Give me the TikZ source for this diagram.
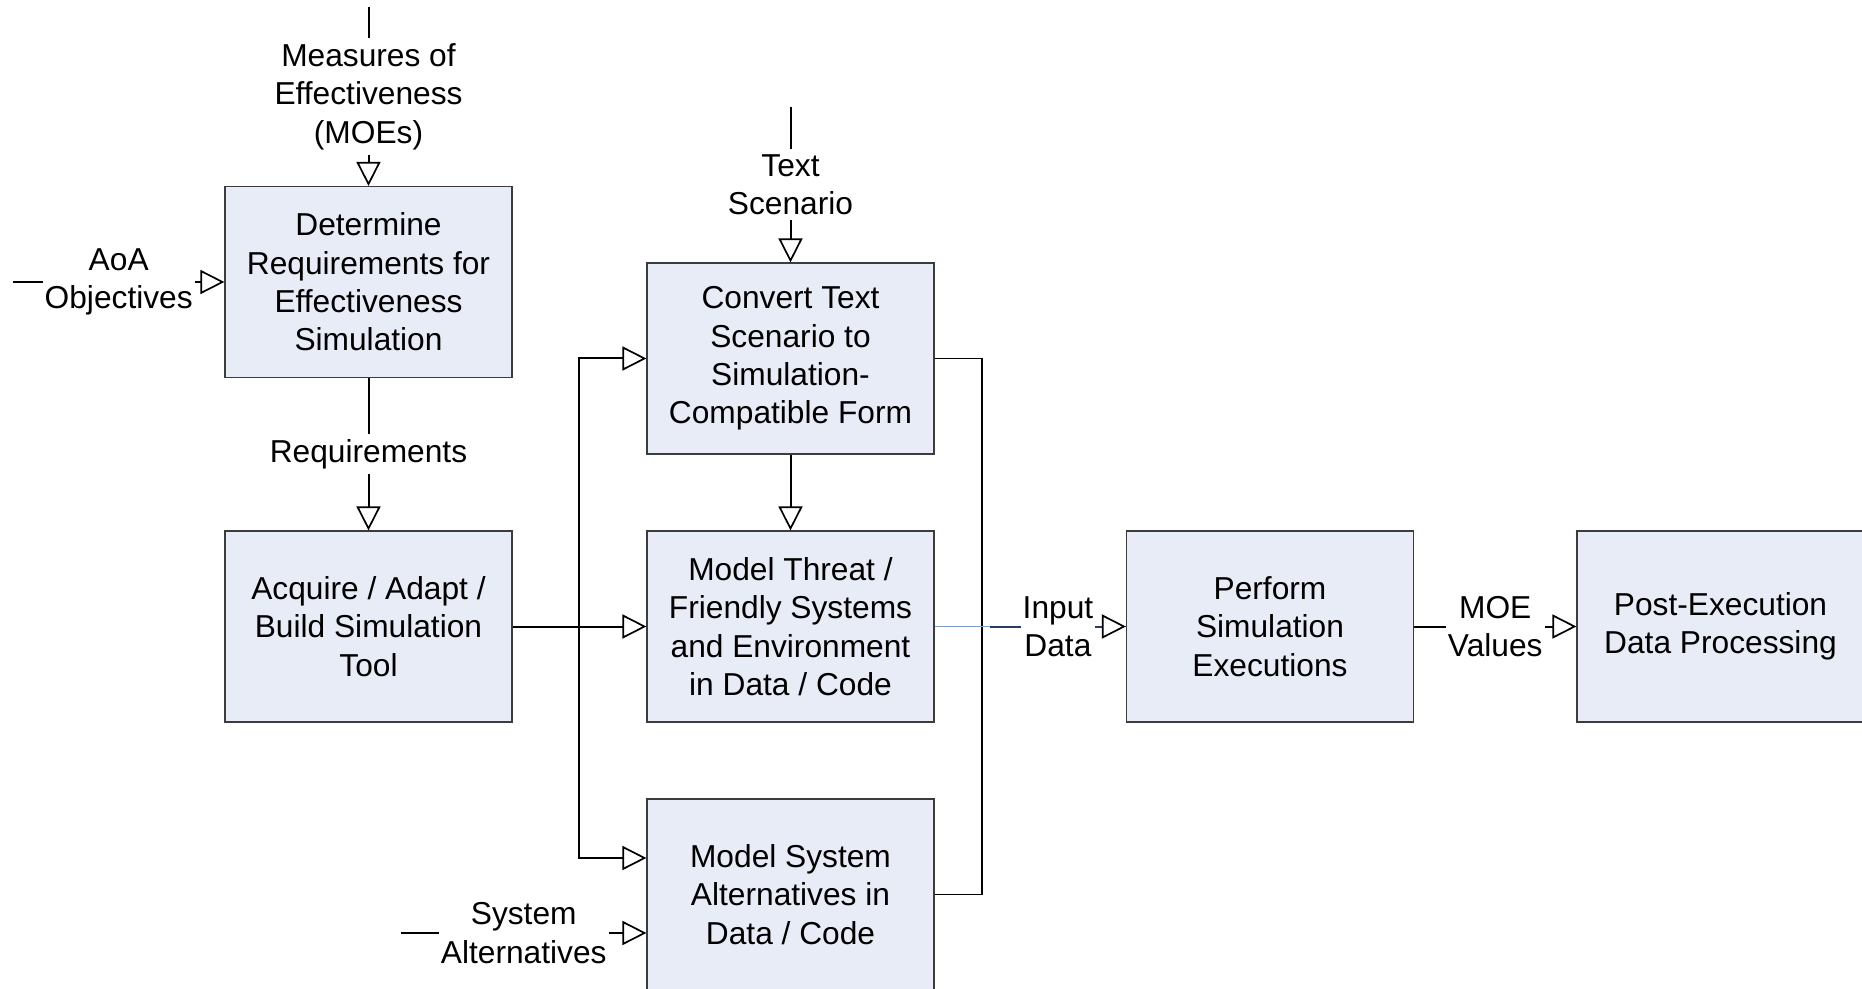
\documentclass[tikz,border=0pt]{standalone}
\usepackage{fontspec}
\setmainfont{Liberation Sans}
\usetikzlibrary{arrows.meta}
\definecolor{boxfill}{RGB}{231,236,247}
\definecolor{boxborder}{RGB}{60,60,60}
\definecolor{lightline}{RGB}{127,160,205}
\definecolor{darkline}{RGB}{40,60,95}
\newcommand{\diagfont}{\fontsize{15.85pt}{19.2pt}\selectfont}
\tikzset{
  proc/.style={draw=boxborder, fill=boxfill, line width=0.6pt,
    minimum width=143.5pt, minimum height=95.5pt, align=center,
    inner sep=0pt, font=\diagfont},
  lbl/.style={fill=white, align=center, inner xsep=1pt, inner ysep=2.5pt,
    font=\diagfont},
  tip/.tip={Triangle[length=12pt, width=12pt, fill=white, color=black, line width=0.85pt]},
  conn/.style={line width=1pt, -tip},
  thinconn/.style={line width=0.7pt},
}
\begin{document}
\begin{tikzpicture}[x=0.5pt, y=-0.5pt]
\useasboundingbox (0,0) rectangle (1862,989);
\begin{scope}
\clip (0,0) rectangle (1862,989);

% process boxes
\node[proc] (det)  at (368.5,282)   {Determine\\Requirements for\\Effectiveness\\Simulation};
\node[proc] (acq)  at (368.5,626.5) {Acquire / Adapt /\\Build Simulation\\Tool};
\node[proc] (conv) at (790.5,358.5) {Convert Text\\Scenario to\\Simulation-\\Compatible Form};
\node[proc] (thr)  at (790.5,626.5) {Model Threat /\\Friendly Systems\\and Environment\\in Data / Code};
\node[proc] (alt)  at (790.5,894.5) {Model System\\Alternatives in\\Data / Code};
\node[proc] (perf) at (1270,626.5)  {Perform\\Simulation\\Executions};
\node[proc] (post) at (1720.5,626.5){Post-Execution\\Data Processing};

% free ends and bus points
\coordinate (moeTop) at (368.5,7);
\coordinate (aoaStart) at (13,282);
\coordinate (tsTop) at (790.5,107);
\coordinate (saStart) at (401,933);
\coordinate (busL) at (579,627);
\coordinate (busR) at (982,627);
\coordinate (inStart) at (990,626.5);

% inputs from outside
\draw[conn] (moeTop) -- node[lbl] {Measures of\\Effectiveness\\(MOEs)} (det.north);
\draw[conn] (aoaStart) -- node[lbl] {AoA\\Objectives} (det.west);
\draw[conn] (tsTop) -- node[lbl] {Text\\Scenario} (conv.north);
\draw[conn] (saStart) -- node[lbl] {System\\Alternatives} ([yshift=-19.25pt]alt.west);

% internal flows
\draw[conn] (det.south) -- node[lbl] {Requirements} (acq.north);
\draw[conn] (conv.south) -- (thr.north);
\draw[conn] (acq.east) -- (thr.west);
\draw[conn] (busL) |- (conv.west);
\draw[conn] (busL) |- ([yshift=18.25pt]alt.west);

% right-hand collector
\draw[thinconn] (conv.east) -| (busR) |- (alt.east);
\draw[lightline, line width=0.6pt] (thr.east) -- (perf.west);
\draw[conn, darkline] (inStart) -- node[lbl, text=black] {Input\\Data} (perf.west);

\draw[conn] (perf.east) -- node[lbl] {MOE\\Values} (post.west);
\end{scope}
\end{tikzpicture}
\end{document}
